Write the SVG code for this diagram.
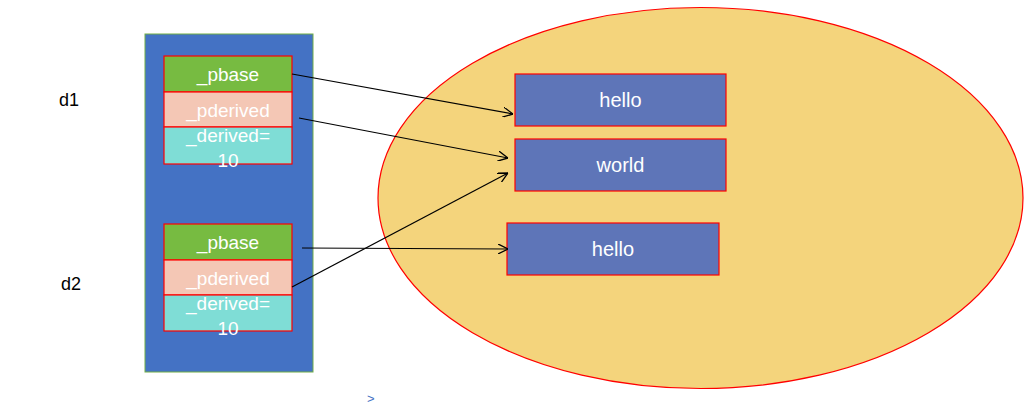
<svg xmlns="http://www.w3.org/2000/svg" width="1035" height="407" viewBox="0 0 1035 407">
<defs>
<style>
text{font-family:"Liberation Sans",Arial,sans-serif;font-size:19px}
.w{fill:#fff;text-anchor:middle}
.b{font-size:20px}
.k{fill:#000;font-size:18px}
.cell{stroke:#f00;stroke-width:1.2}
.box{fill:#5e75b8;stroke:#f00;stroke-width:1.2}
.conn{stroke:#000;stroke-width:1.2;fill:none;marker-end:url(#ah)}
</style>
<marker id="ah" viewBox="0 0 10 10" refX="10" refY="5" markerWidth="10" markerHeight="10" markerUnits="userSpaceOnUse" orient="auto">
<path d="M0,0 L10,5 L0,10" fill="none" stroke="#000" stroke-width="1.3"/>
</marker>
</defs>
<rect width="1035" height="407" fill="#fff"/>
<g id="heap">
<ellipse cx="700.5" cy="198" rx="322.5" ry="190.5" fill="#f4d47c" stroke="#f00" stroke-width="1.2"/>
</g>
<g id="stack">
<rect x="145" y="34" width="168" height="338" fill="#4472c4" stroke="#70ad47" stroke-width="1"/>
</g>
<g id="d1">
<rect class="cell" x="164" y="56" width="128" height="36" fill="#77bb41"/>
<rect class="cell" x="164" y="92" width="128" height="35" fill="#f4c7b5"/>
<rect class="cell" x="164" y="127" width="128" height="37" fill="#7fddd6"/>
<text class="w" x="228" y="81">_pbase</text>
<text class="w" x="228" y="117">_pderived</text>
<text class="w" x="228" y="142">_derived=</text>
<text class="w" x="228" y="167">10</text>
</g>
<g id="d2">
<rect class="cell" x="164" y="224" width="128" height="36" fill="#77bb41"/>
<rect class="cell" x="164" y="260" width="128" height="35" fill="#f4c7b5"/>
<rect class="cell" x="164" y="295" width="128" height="36" fill="#7fddd6"/>
<text class="w" x="228" y="249">_pbase</text>
<text class="w" x="228" y="285">_pderived</text>
<text class="w" x="228" y="310">_derived=</text>
<text class="w" x="228" y="335">10</text>
</g>
<g id="hello1">
<rect class="box" x="515" y="74" width="211" height="52"/>
<text class="w b" x="620.5" y="107">hello</text>
</g>
<g id="world">
<rect class="box" x="515" y="139" width="211" height="52"/>
<text class="w b" x="620.5" y="172">world</text>
</g>
<g id="hello2">
<rect class="box" x="507" y="223" width="212" height="52"/>
<text class="w b" x="613" y="256">hello</text>
</g>
<g id="labels">
<text class="k" x="59" y="106">d1</text>
<text class="k" x="61" y="290">d2</text>
<text x="367" y="403" style="fill:#4472c4;font-size:13px">&gt;</text>
</g>
<g id="connectors">
<line class="conn" x1="292" y1="74" x2="513" y2="114"/>
<line class="conn" x1="299" y1="118" x2="508" y2="158"/>
<line class="conn" x1="292" y1="287" x2="508" y2="173"/>
<line class="conn" x1="302" y1="248" x2="508" y2="249"/>
</g>
</svg>
